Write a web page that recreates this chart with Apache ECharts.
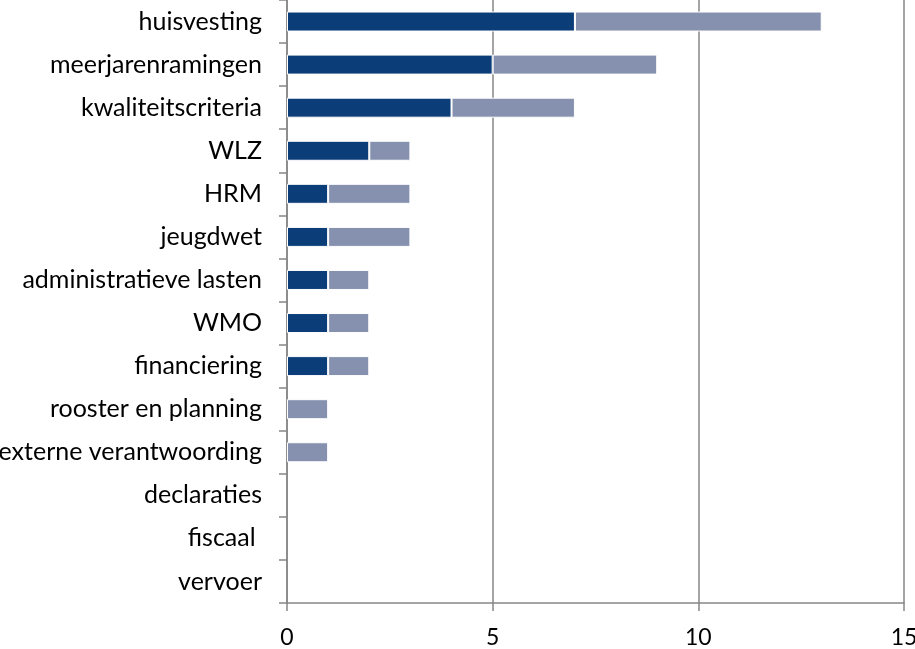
<!DOCTYPE html>
<html>
<head>
<meta charset="utf-8">
<script src="https://cdn.jsdelivr.net/npm/echarts@6/dist/echarts.min.js"></script>
<style>
  html, body { margin: 0; padding: 0; background: #fff; }
  #chart { width: 915px; height: 649px; }
</style>
</head>
<body>
<div id="chart"></div>
<script>
// categories, top to bottom
const categories = [
  'huisvesting', 'meerjarenramingen', 'kwaliteitscriteria', 'WLZ', 'HRM',
  'jeugdwet', 'administratieve lasten', 'WMO', 'financiering',
  'rooster en planning', 'externe verantwoording', 'declaraties', 'fiscaal ', 'vervoer'
]
// dark segment
const darkValues = [7, 5, 4, 2, 1, 1, 1, 1, 1, 0, 0, 0, 0, 0]
// light segment (stacked on top of dark)
const lightValues = [6, 4, 3, 1, 2, 2, 1, 1, 1, 1, 1, 0, 0, 0]
const xTicks = [0, 5, 10, 15]

const axisGray = '#868686'
const font = 'Lato, "Open Sans", sans-serif'

// zero bars would still draw their white border over the axis
const noZero = arr => arr.map(v => (v === 0 ? null : v))

const chart = echarts.init(document.getElementById('chart'))
chart.setOption({
  animation: false,
  grid: { left: 287, right: 11, top: 0, bottom: 46, outerBoundsMode: 'none', containLabel: false },
  xAxis: {
    type: 'value',
    min: xTicks[0],
    max: xTicks[xTicks.length - 1],
    interval: 5,
    axisLine: { show: true, lineStyle: { color: axisGray, width: 1.5 } },
    axisTick: { show: true, length: 8, lineStyle: { color: axisGray, width: 1.5 } },
    splitLine: { show: true, lineStyle: { color: axisGray, width: 1.5 } },
    axisLabel: { color: '#000', fontSize: 23, fontFamily: font, margin: 23 }
  },
  yAxis: {
    type: 'category',
    data: categories,
    inverse: true,
    axisLine: { show: true, lineStyle: { color: axisGray, width: 1.5 } },
    axisTick: { show: true, length: 8, lineStyle: { color: axisGray, width: 1.5 } },
    axisLabel: { color: '#000', fontSize: 25, fontFamily: font, margin: 25 }
  },
  series: [
    {
      type: 'bar',
      stack: 'total',
      data: noZero(darkValues),
      barWidth: 20,
      itemStyle: { color: '#0b3d78', borderColor: '#fff', borderWidth: 1 }
    },
    {
      type: 'bar',
      stack: 'total',
      data: noZero(lightValues),
      barWidth: 20,
      itemStyle: { color: '#8591ae', borderColor: '#fff', borderWidth: 1 }
    }
  ]
})
</script>
</body>
</html>
